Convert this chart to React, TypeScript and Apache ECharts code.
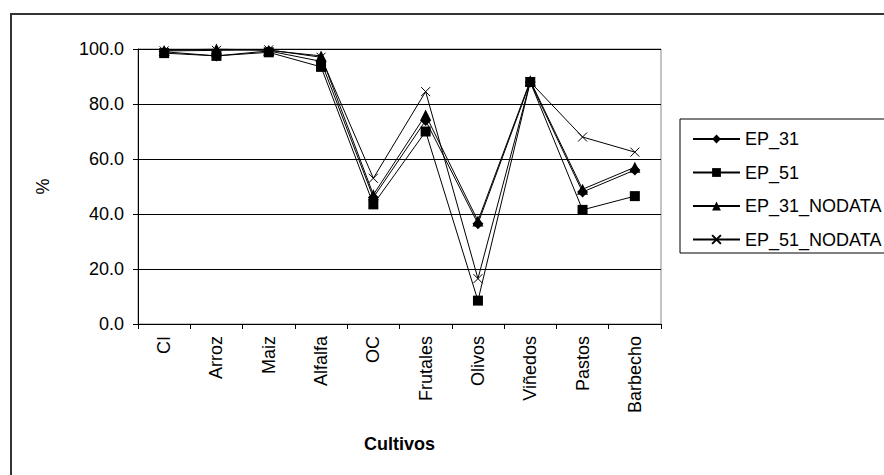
import React, { useEffect, useRef } from "react";
import * as echarts from "echarts";

const categories = ["CI", "Arroz", "Maiz", "Alfalfa", "OC", "Frutales", "Olivos", "Viñedos", "Pastos", "Barbecho"];
const seriesNames = ["EP_31", "EP_51", "EP_31_NODATA", "EP_51_NODATA"];
const ep31 = [99.0, 97.5, 99.3, 95.5, 46.0, 74.0, 36.5, 88.0, 48.0, 56.0];
const ep51 = [98.5, 97.5, 98.8, 93.5, 43.5, 70.0, 8.5, 88.0, 41.5, 46.5];
const ep31NoData = [99.5, 100.0, 99.5, 97.5, 47.0, 76.0, 37.5, 88.5, 49.0, 57.0];
const ep51NoData = [99.3, 99.5, 99.7, 97.0, 53.0, 84.5, 16.5, 88.0, 68.0, 62.5];
const yTicks = [0, 20, 40, 60, 80, 100];

const FONT = "'Liberation Sans', Arial, sans-serif";
const CROSS = "path://M0,0L10,10M10,0L0,10";

export default function App() {
  const ref = useRef<HTMLDivElement>(null);
  useEffect(() => {
    if (!ref.current) return;
    const chart = echarts.init(ref.current, null, { renderer: "svg" });
    const mk = (name: string, data: number[], symbol: string, size: number, cross = false) => ({
      name,
      type: "line",
      data,
      symbol,
      symbolSize: size,
      showAllSymbol: true,
      lineStyle: { color: "#000", width: 1 },
      itemStyle: cross
        ? { color: "rgba(0,0,0,0)", borderColor: "#000", borderWidth: 1 }
        : { color: "#000", borderColor: "#000", borderWidth: 0 },
      emphasis: { disabled: true },
    });
    chart.setOption({
      animation: false,
      backgroundColor: "#fff",
      textStyle: { fontFamily: FONT },
      graphic: [
        {
          type: "rect",
          shape: { x: 11, y: 14, width: 1000, height: 1000 },
          style: { fill: "none", stroke: "#333", lineWidth: 2 },
          silent: true,
        },
        {
          type: "rect",
          shape: { x: 680, y: 119, width: 300, height: 134 },
          style: { fill: "none", stroke: "#000", lineWidth: 1 },
          silent: true,
        },
      ],
      grid: {
        left: 138,
        right: 223,
        top: 49,
        bottom: 151,
        show: true,
        borderColor: "#888",
        borderWidth: 1,
        backgroundColor: "transparent",
      },
      legend: {
        orient: "vertical",
        left: 687,
        top: 124,
        itemWidth: 47,
        itemHeight: 11,
        itemGap: 13.5,
        data: seriesNames,
        textStyle: { fontFamily: FONT, fontSize: 18, color: "#000", lineHeight: 20 },
        selectedMode: false,
      },
      xAxis: {
        type: "category",
        data: categories,
        boundaryGap: true,
        name: "Cultivos",
        nameLocation: "middle",
        nameGap: 111,
        nameTextStyle: { fontFamily: FONT, fontSize: 18, fontWeight: "bold", color: "#000" },
        axisLine: { lineStyle: { color: "#000", width: 1 } },
        axisTick: { show: true, length: 5, lineStyle: { color: "#000" } },
        axisLabel: { rotate: 90, fontSize: 18, color: "#000", margin: 12, fontFamily: FONT },
      },
      yAxis: {
        type: "value",
        min: yTicks[0],
        max: yTicks[yTicks.length - 1],
        interval: 20,
        name: "%",
        nameLocation: "middle",
        nameGap: 86,
        nameRotate: 90,
        nameTextStyle: { fontFamily: FONT, fontSize: 18, color: "#000" },
        axisLine: { show: true, lineStyle: { color: "#000", width: 1 } },
        axisTick: { show: true, length: 5, lineStyle: { color: "#000" } },
        axisLabel: { fontSize: 18, color: "#000", margin: 14, fontFamily: FONT, formatter: (v: number) => v.toFixed(1) },
        splitLine: { show: true, lineStyle: { color: "#000", width: 1 } },
      },
      series: [
        mk(seriesNames[0], ep31, "diamond", 11),
        mk(seriesNames[1], ep51, "rect", 10),
        mk(seriesNames[2], ep31NoData, "triangle", 11),
        mk(seriesNames[3], ep51NoData, CROSS, 9, true),
      ],
    });
    return () => chart.dispose();
  }, []);
  return (
    <div
      ref={ref}
      style={{ position: "fixed", left: 0, top: 0, width: 884, height: 475, background: "#fff" }}
    />
  );
}
